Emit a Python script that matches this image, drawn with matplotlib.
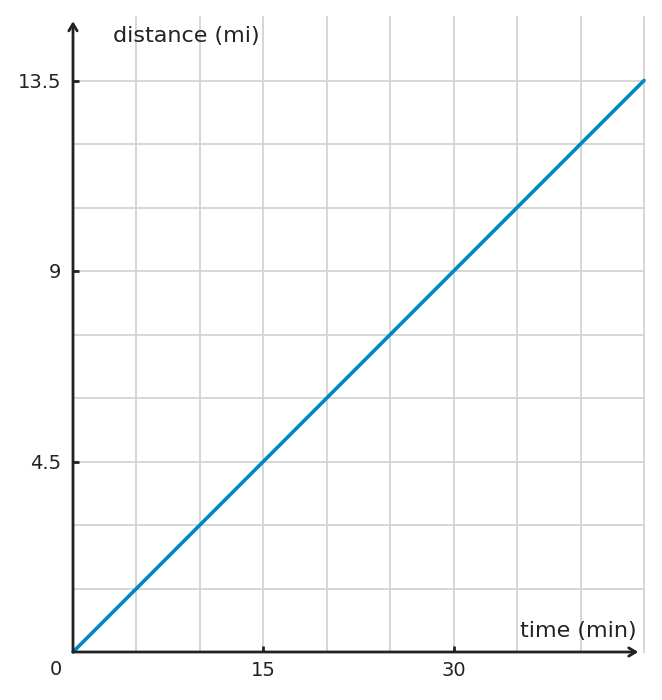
import numpy as np
import matplotlib.pyplot as plt

# Data
time_min = [0, 45]
distance_mi = [0, 13.5]
x_ticks = [15, 30]
x_tick_labels = ['15', '30']
y_ticks = [4.5, 9, 13.5]
y_tick_labels = ['4.5', '9', '13.5']
x_grid = [5, 10, 15, 20, 25, 30, 35, 40, 45]
y_grid = [1.5, 3, 4.5, 6, 7.5, 9, 10.5, 12, 13.5]

axis_col = '#222222'
line_col = '#0088bf'

fig = plt.figure(figsize=(6.62, 7.0), dpi=100)
ax = fig.add_axes([73 / 662, 1 - 652 / 700, (644 - 73) / 662, (652 - 17) / 700])
ax.set_xlim(0, 45)
ax.set_ylim(0, 15)

# Grid
for gx in x_grid:
    ax.plot([gx, gx], [0, 15], color='#d3d3d3', lw=1.3, zorder=1, clip_on=False)
for gy in y_grid:
    ax.plot([0, 45], [gy, gy], color='#d3d3d3', lw=1.3, zorder=1, clip_on=False)

# Line
ax.plot(time_min, distance_mi, color=line_col, lw=2.6, zorder=3,
        solid_capstyle='round', clip_on=False)

for s in ax.spines.values():
    s.set_visible(False)

# Axes arrows
arrow = dict(arrowstyle='->,head_length=0.5,head_width=0.3', color=axis_col, lw=2,
             shrinkA=0, shrinkB=0)
ax.annotate('', xy=(44.55, 0), xytext=(0, 0), arrowprops=arrow, zorder=4,
            annotation_clip=False)
ax.annotate('', xy=(0, 14.9), xytext=(0, 0), arrowprops=arrow, zorder=4,
            annotation_clip=False)

# Ticks
ax.set_xticks(x_ticks)
ax.set_xticklabels(x_tick_labels)
ax.set_yticks(y_ticks)
ax.set_yticklabels(y_tick_labels)
ax.tick_params(direction='in', length=4, width=2, color=axis_col,
               labelsize=14, labelcolor=axis_col)
ax.tick_params(axis='x', pad=6.5)
ax.tick_params(axis='y', pad=8.5)

ax.text(-1.35, -0.42, '0', fontsize=14, color=axis_col, ha='center', va='center')

# Axis labels
ax.text(3.15, 14.55, 'distance (mi)', fontsize=16, color=axis_col, va='center', ha='left')
ax.text(44.4, 0.5, 'time (min)', fontsize=16, color=axis_col, va='center', ha='right')

fig.savefig('out.png', dpi=100)
